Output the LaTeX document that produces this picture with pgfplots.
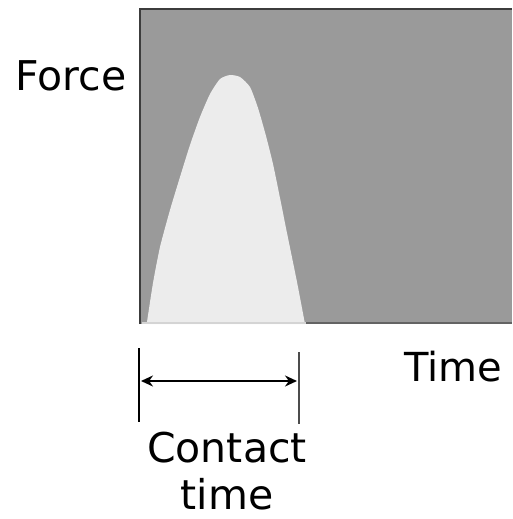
\documentclass[border=0pt]{standalone}
\usepackage{pgfplots}
\pgfplotsset{compat=1.18}
\usetikzlibrary{arrows.meta}
\usepackage{fontspec}
\setmainfont{DejaVu Sans}
\definecolor{bgG}{HTML}{9A9A9A}
\definecolor{lightG}{HTML}{ECECEC}
\definecolor{edgeG}{HTML}{3C3C3C}
\begin{document}
\begin{tikzpicture}
\begin{axis}[
  scale only axis, width=373pt, height=316pt,
  xmin=139, xmax=512, ymin=0, ymax=316,
  hide axis, clip=false,
]
\addplot[fill=bgG, draw=none] coordinates {(139,0) (512,0) (512,316) (139,316)} -- cycle;
\addplot[fill=lightG, draw=none, smooth, tension=0.35] coordinates {
(146.7,0) (153,41) (160,77) (170,114) (180,147) (190,179) (200,207) (210,230) (220,245)
(230,249) (240,247) (250,237) (258,216) (266,188) (273,160) (280,126) (287,91) (297,42) (305,0)} -- cycle;
\addplot[edgeG, line width=2pt] coordinates {(140,0) (140,315) (512,315)};
\addplot[edgeG!80, line width=1.5pt] coordinates {(306,1) (512,1)};
\addplot[lightG!90!black, line width=1.5pt] coordinates {(142,1) (306,1)};
\addplot[black, line width=1.3pt] coordinates {(139,-24) (139,-98)};
\addplot[black!70, line width=1.3pt] coordinates {(299,-28) (299,-100)};
\addplot[black, line width=1.8pt, {Stealth[length=12pt,width=11pt]}-{Stealth[length=12pt,width=11pt]}] coordinates {(141,-57) (297,-57)};
\node[font=\fontsize{41}{45}\selectfont] at (axis cs:71,248) {Force};
\node[font=\fontsize{40}{44}\selectfont] at (axis cs:453,-43) {Time};
\node[font=\fontsize{41}{45}\selectfont] at (axis cs:227,-124) {Contact};
\node[font=\fontsize{41}{45}\selectfont] at (axis cs:227,-170) {time};
\path (axis cs:0,-195) rectangle (axis cs:512,324);
\end{axis}
\end{tikzpicture}
\end{document}
